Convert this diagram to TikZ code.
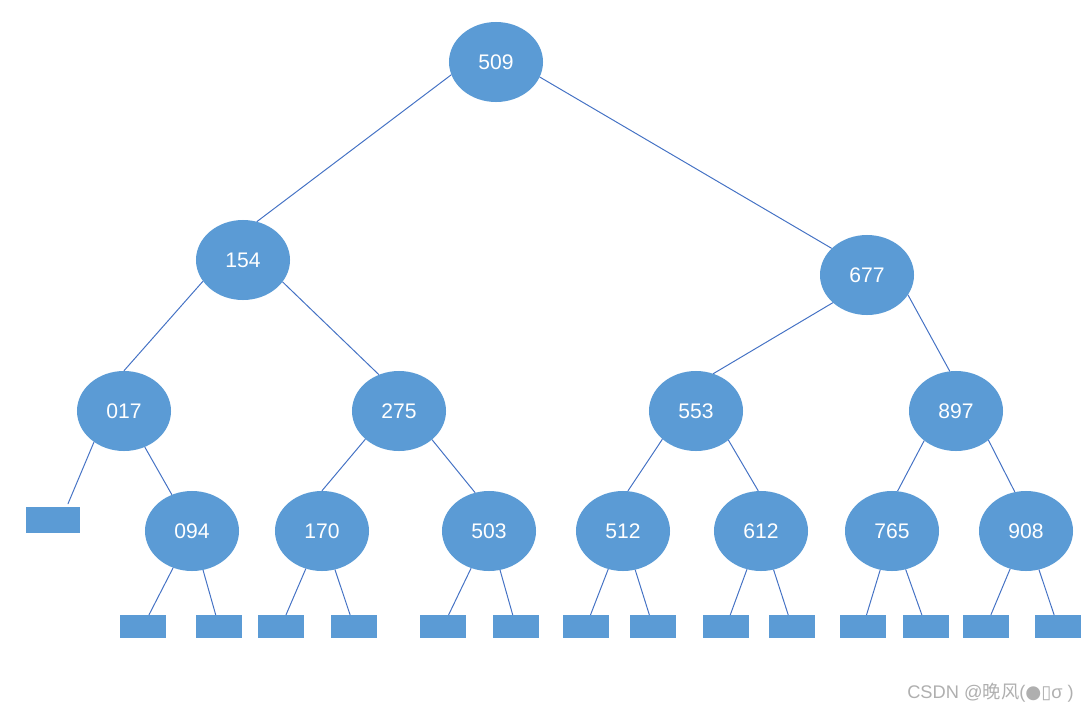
\documentclass[tikz,border=0pt]{standalone}
\usepackage{fontspec}
\setmainfont{Liberation Sans}
\newfontfamily\cjk{Noto Sans CJK SC}
\newfontfamily\symf{DejaVu Sans}
\usepackage{tikz}
\usetikzlibrary{shapes.geometric}
\definecolor{keyc}{RGB}{91,155,213}
\definecolor{linkc}{RGB}{68,114,196}
\definecolor{markc}{RGB}{175,175,175}

\begin{document}
\begin{tikzpicture}[x=0.025cm, y=-0.025cm, line cap=round,
    key/.style={ellipse, fill=keyc, text=white, minimum width=2.35cm, minimum height=2cm,
                inner sep=0pt, font=\fontsize{15}{18}\selectfont},
    nil/.style={rectangle, fill=keyc, minimum width=1.15cm, minimum height=0.575cm, inner sep=0pt},
    link/.style={linkc, line width=0.7pt}]
  \useasboundingbox (0,0) rectangle (1090,711);

  % keys, level by level
  \node[key] (n509) at (496,62)  {509};
  \node[key] (n154) at (243,260) {154};
  \node[key] (n677) at (867,275) {677};
  \node[key] (n017) at (124,411) {017};
  \node[key] (n275) at (399,411) {275};
  \node[key] (n553) at (696,411) {553};
  \node[key] (n897) at (956,411) {897};
  \node[key] (n094) at (192,531) {094};
  \node[key] (n170) at (322,531) {170};
  \node[key] (n503) at (489,531) {503};
  \node[key] (n512) at (623,531) {512};
  \node[key] (n612) at (761,531) {612};
  \node[key] (n765) at (892,531) {765};
  \node[key] (n908) at (1026,531) {908};

  % empty leaves
  \node[nil, minimum width=1.35cm, minimum height=0.65cm] (e017) at (53,520) {};
  \foreach \n/\x in {a094/143, b094/219, a170/281, b170/354, a503/443, b503/516,
                     a512/586, b512/653, a612/726, b612/792, a765/863, b765/926,
                     a908/986, b908/1058}
    \node[nil] (\n) at (\x,626.5) {};

  % links between keys (anchors follow the hand-placed lines)
  \foreach \a/\b in {n509.196/n154.70, n509.341/n677.143,
                     n154.208/n017.90, n154.331/n275.119,
                     n677.219/n553.65, n677.334/n897.99,
                     n017.300/n094.119, n275.220/n170.90, n275.319/n503.110,
                     n553.220/n512.83, n553.318/n612.94,
                     n897.223/n765.82, n897.318/n908.106}
    \draw[link] (\a) -- (\b);
  \draw[link] (n017.226) -- ([xshift=0.375cm, yshift=0.075cm]e017.north);

  % links to leaves
  \foreach \k in {094,170,503,512,612,765,908}{
    \draw[link] (n\k) -- (a\k);
    \draw[link] (n\k) -- (b\k);
  }

  % watermark
  \node[markc, anchor=base west, inner sep=0pt, font=\fontsize{13}{15}\selectfont] (mark) at (907,698)
    {CSDN @{\cjk 晚风}({\symf ●▯}σ )};
\end{tikzpicture}
\end{document}
